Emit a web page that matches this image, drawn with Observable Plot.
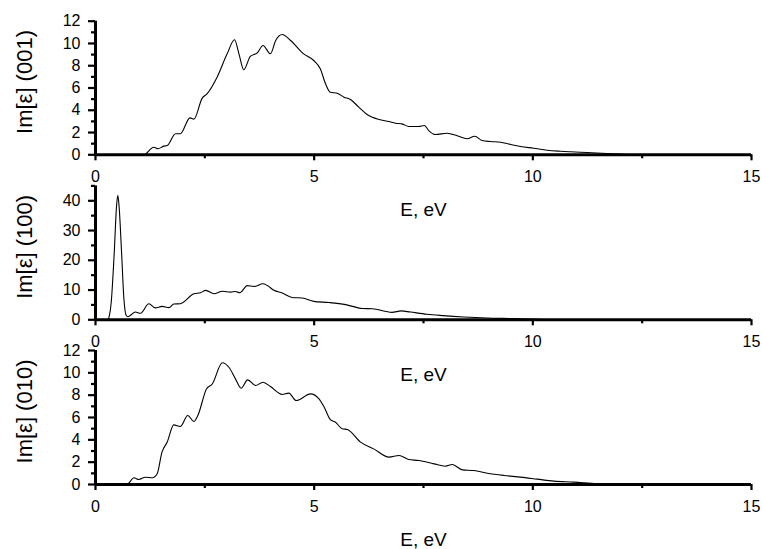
<!DOCTYPE html>
<html>
<head>
<meta charset="utf-8">
<script src="https://cdn.jsdelivr.net/npm/d3@7"></script>
<script src="https://cdn.jsdelivr.net/npm/@observablehq/plot@0.6"></script>
<style>
  html, body { margin: 0; padding: 0; background: white; }
  #chart { position: relative; width: 762px; height: 549px; overflow: hidden; }
  #chart svg { position: absolute; left: 0; top: 0; }
</style>
</head>
<body>
<div id="chart"></div>
<script>
// ---- data ----
const xMajorTicks = [0, 5, 10, 15];
const xMinorTicks = [2.5, 7.5, 12.5];
const xLabel = "E, eV";

// Panel 1: Im[ε] (001)
const label001 = "Im[ε] (001)";
const e001 = [0, 1.10, 1.33, 1.43, 1.56, 1.64, 1.83, 1.94, 2.16, 2.25, 2.44, 2.55, 2.78, 3.01, 3.18, 3.28, 3.39, 3.54, 3.70, 3.83, 4.00, 4.12, 4.27, 4.46, 4.76, 4.99, 5.14, 5.26, 5.37, 5.53, 5.68, 5.83, 6.02, 6.21, 6.48, 6.71, 6.86, 7.01, 7.16, 7.39, 7.52, 7.62, 7.77, 8.04, 8.27, 8.50, 8.67, 8.84, 9.03, 9.26, 9.49, 9.72, 10.02, 10.33, 10.63, 10.86, 11.24, 11.70, 12.08, 12.5, 15];
const v001 = [0, 0, 0.68, 0.54, 0.78, 0.84, 1.89, 1.89, 3.32, 3.20, 5.09, 5.48, 6.97, 9.07, 10.33, 9.07, 7.64, 8.83, 9.16, 9.82, 9.07, 10.27, 10.81, 10.27, 9.07, 8.47, 7.73, 6.38, 5.62, 5.53, 5.18, 4.97, 4.28, 3.62, 3.17, 2.99, 2.84, 2.78, 2.54, 2.54, 2.63, 2.18, 1.82, 1.94, 1.71, 1.44, 1.67, 1.28, 1.19, 1.13, 0.93, 0.75, 0.59, 0.41, 0.32, 0.27, 0.20, 0.11, 0.05, 0, 0];
const yTicks001 = [0, 2, 4, 6, 8, 10, 12];
const yMinor001 = [1, 3, 5, 7, 9, 11];

// Panel 2: Im[ε] (100)
const label100 = "Im[ε] (100)";
const e100 = [0, 0.28, 0.30, 0.36, 0.43, 0.48, 0.51, 0.54, 0.595, 0.65, 0.70, 0.74, 0.80, 0.91, 1.03, 1.22, 1.37, 1.52, 1.68, 1.79, 1.94, 2.25, 2.40, 2.52, 2.71, 2.90, 3.09, 3.20, 3.30, 3.47, 3.62, 3.83, 3.93, 4.08, 4.27, 4.50, 4.73, 4.99, 5.34, 5.72, 6.10, 6.33, 6.78, 6.99, 7.20, 7.58, 7.95, 8.42, 8.95, 9.57, 10.10, 10.6, 15];
const v100 = [0, 0, 0.5, 6, 23, 38, 41.8, 38, 23, 7, 1.5, 1.0, 1.5, 2.6, 2.2, 5.4, 4.0, 4.5, 4.1, 5.3, 5.4, 8.75, 9.1, 9.9, 8.75, 9.6, 9.3, 9.5, 9.1, 11.5, 11.2, 12.1, 11.5, 9.9, 9.0, 7.5, 7.3, 6.2, 5.8, 5.1, 3.8, 3.7, 2.5, 3.0, 2.6, 1.85, 1.4, 0.95, 0.6, 0.4, 0.15, 0, 0];
const yTicks100 = [0, 10, 20, 30, 40];
const yMinor100 = [5, 15, 25, 35, 45];

// Panel 3: Im[ε] (010)
const label010 = "Im[ε] (010)";
const e010 = [0, 0.72, 0.88, 0.99, 1.14, 1.30, 1.41, 1.52, 1.64, 1.79, 1.94, 2.11, 2.25, 2.34, 2.54, 2.67, 2.90, 3.05, 3.20, 3.33, 3.48, 3.66, 3.83, 4.00, 4.27, 4.42, 4.59, 4.92, 5.11, 5.23, 5.37, 5.49, 5.64, 5.76, 6.06, 6.36, 6.71, 6.94, 7.16, 7.39, 7.74, 8.00, 8.16, 8.39, 8.65, 8.96, 9.34, 9.72, 10.10, 10.48, 10.94, 11.47, 12.3, 15];
const v010 = [0, 0, 0.6, 0.45, 0.65, 0.6, 0.96, 2.9, 3.8, 5.34, 5.2, 6.18, 5.64, 6.18, 8.57, 9.0, 10.9, 10.5, 9.46, 8.62, 9.37, 8.86, 9.16, 8.77, 8.06, 8.18, 7.52, 8.12, 7.67, 6.92, 5.82, 5.58, 4.99, 4.93, 3.79, 3.19, 2.45, 2.60, 2.24, 2.15, 1.85, 1.64, 1.79, 1.31, 1.25, 1.01, 0.81, 0.66, 0.48, 0.30, 0.21, 0.06, 0, 0];
const yTicks010 = [0, 2, 4, 6, 8, 10, 12];
const yMinor010 = [1, 3, 5, 7, 9, 11];

// ---- drawing ----
const W = 762, H = 549;
const FONT = "'Liberation Sans', Arial, Helvetica, sans-serif";

function panel({e, v, yMax, yTicks, yMinor, label, top, bottom}) {
  const data = e.map((x, i) => ({e: x, v: v[i]}));
  return Plot.plot({
    width: W,
    height: H,
    marginLeft: 95,
    marginRight: 11,
    marginTop: top,
    marginBottom: H - bottom,
    style: {background: "transparent", fontFamily: FONT, fontSize: "16px", color: "black", overflow: "visible"},
    x: {domain: [0, 15], label: null},
    y: {domain: [0, yMax], label: null},
    marks: [
      Plot.line(data, {x: "e", y: "v", stroke: "black", strokeWidth: 1.1, curve: "monotone-x"}),
      Plot.axisX({ticks: xMajorTicks, tickSize: 6, tickPadding: 10, strokeWidth: 2.2, label: null, fontSize: 16}),
      Plot.axisX({ticks: xMinorTicks, tickSize: 4, tickFormat: () => "", strokeWidth: 2.2, label: null}),
      Plot.axisY({ticks: yTicks, tickSize: 7, tickPadding: 8, strokeWidth: 2.2, label: null, fontSize: 16}),
      Plot.axisY({ticks: yMinor, tickSize: 4, tickFormat: () => "", strokeWidth: 2.2, label: null}),
      Plot.ruleY([0], {stroke: "black", strokeWidth: 3}),
      Plot.ruleX([0], {stroke: "black", strokeWidth: 3}),
      Plot.text([xLabel], {text: (d) => d, frameAnchor: "bottom", dy: 55.5, fontSize: 19, lineAnchor: "middle", fill: "black"}),
      Plot.text([label], {text: (d) => d, frameAnchor: "left", dx: -71, dy: -6, rotate: -90, fontSize: 22, lineAnchor: "middle", textAnchor: "middle", fill: "black"})
    ]
  });
}

const chart = document.getElementById("chart");
chart.append(panel({e: e001, v: v001, yMax: 12, yTicks: yTicks001, yMinor: yMinor001, label: label001, top: 20.7, bottom: 154.3}));
chart.append(panel({e: e100, v: v100, yMax: 45, yTicks: yTicks100, yMinor: yMinor100, label: label100, top: 185.4, bottom: 319.3}));
chart.append(panel({e: e010, v: v010, yMax: 12, yTicks: yTicks010, yMinor: yMinor010, label: label010, top: 350, bottom: 484}));
</script>
</body>
</html>
